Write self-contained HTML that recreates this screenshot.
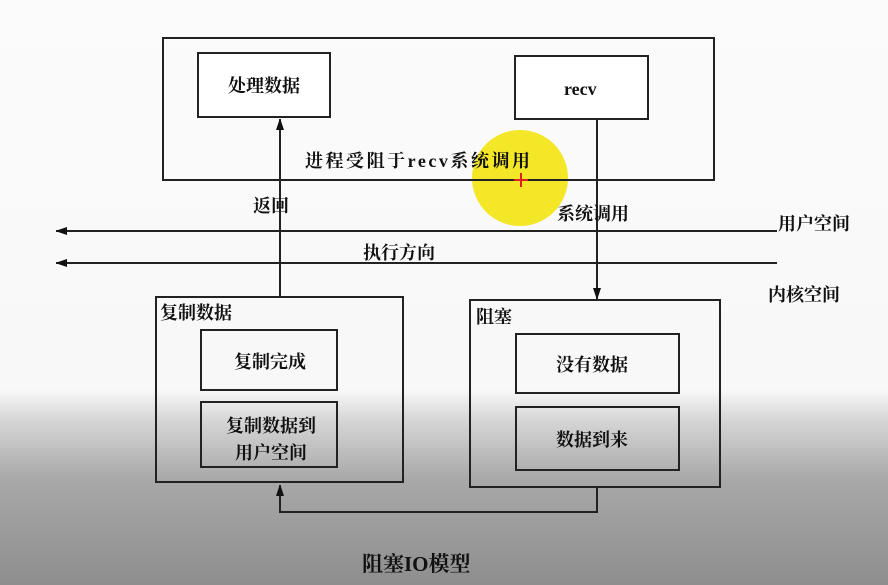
<!DOCTYPE html>
<html><head><meta charset="utf-8"><style>
html,body{margin:0;padding:0}
body{width:888px;height:585px;overflow:hidden;background:linear-gradient(to bottom,#fbfbfb 0px,#f8f8f8 390px,#d6d6d6 420px,#a8a8a8 480px,#8e8e8e 585px);font-family:"Liberation Serif","Noto Serif CJK SC",serif}
svg{position:absolute;left:0;top:0}
text{font-family:"Liberation Serif","Noto Serif CJK SC",serif;fill:#111;font-weight:bold}
</style></head><body>
<svg width="888" height="585" viewBox="0 0 888 585">
<defs><marker id="a" markerWidth="10" markerHeight="12" refX="11" refY="5" orient="auto" markerUnits="userSpaceOnUse"><path d="M0,1 L12,5 L0,9 z" fill="#111"/></marker></defs>
<circle cx="520" cy="178" r="48" fill="#f2e411" opacity="0.9"/>
<g fill="none" stroke="#222" stroke-width="2">
<rect x="163" y="38" width="551" height="142"/>
<rect x="198" y="53" width="132" height="64" fill="#fff"/>
<rect x="515" y="56" width="133" height="63" fill="#fff"/>
<rect x="156" y="297" width="247" height="185"/>
<rect x="201" y="330" width="136" height="60"/>
<rect x="201" y="402" width="136" height="65"/>
<rect x="470" y="300" width="250" height="187"/>
<rect x="516" y="334" width="163" height="59"/>
<rect x="516" y="407" width="163" height="63"/>
<line x1="280" y1="297" x2="280" y2="119" marker-end="url(#a)"/>
<line x1="597" y1="119" x2="597" y2="299" marker-end="url(#a)"/>
<line x1="777" y1="231" x2="56" y2="231" marker-end="url(#a)"/>
<line x1="777" y1="263" x2="56" y2="263" marker-end="url(#a)"/>
<polyline points="597,487 597,512 280,512 280,485" marker-end="url(#a)"/>
</g>
<line x1="514" y1="180" x2="528" y2="180" stroke="#e02020" stroke-width="2"/>
<line x1="521" y1="173" x2="521" y2="187" stroke="#e02020" stroke-width="2"/>
<g font-size="18">
<text x="228" y="92">处理数据</text>
<text x="564" y="95">recv</text>
<text x="305" y="167" textLength="225">进程受阻于recv系统调用</text>
<text x="253" y="212">返回</text>
<text x="557" y="220">系统调用</text>
<text x="363" y="259">执行方向</text>
<text x="778" y="230">用户空间</text>
<text x="768" y="301">内核空间</text>
<text x="160" y="319">复制数据</text>
<text x="476" y="323">阻塞</text>
<text x="234" y="368">复制完成</text>
<text x="226" y="432">复制数据到</text>
<text x="235" y="459">用户空间</text>
<text x="556" y="371">没有数据</text>
<text x="556" y="446">数据到来</text>
</g>
<text x="362" y="571" font-size="21">阻塞IO模型</text>
</svg>
</body></html>
